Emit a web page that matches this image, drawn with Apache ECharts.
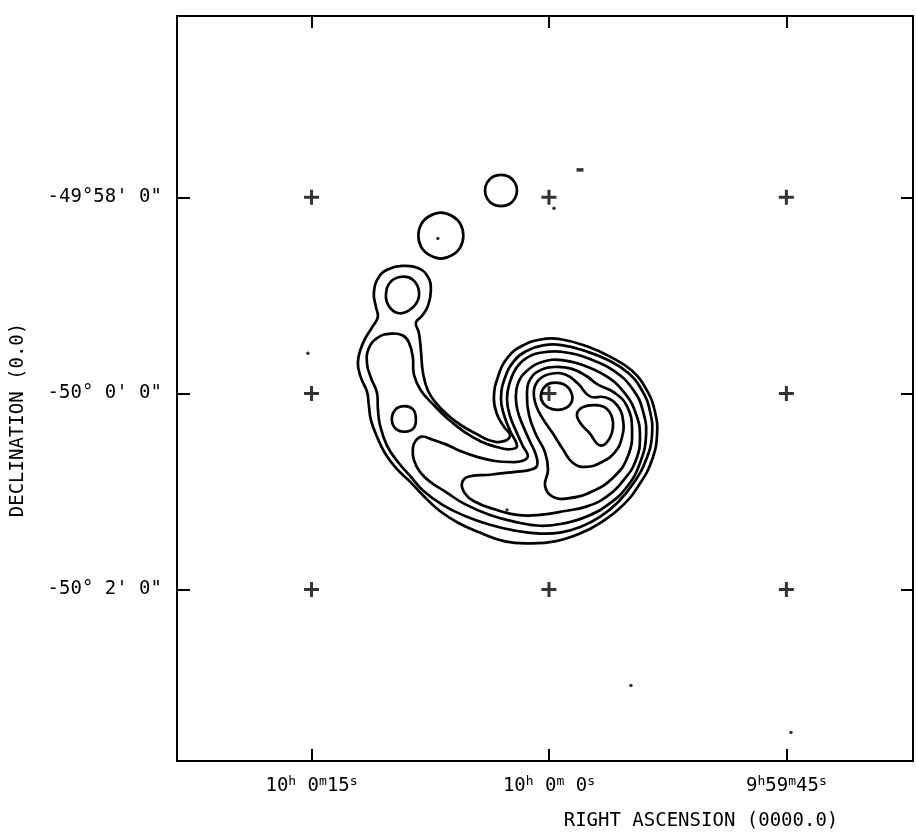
<!DOCTYPE html>
<html>
<head>
<meta charset="utf-8">
<script src="https://cdn.jsdelivr.net/npm/echarts@6/dist/echarts.min.js"></script>
<style>
html,body{margin:0;padding:0;background:#fff;}
#chart{width:916px;height:835px;}
</style>
</head>
<body>
<div id="chart"></div>
<script>
// RA offset in seconds of time from 10h 0m 0s; Dec offset in arcminutes from -50° 0'
const xTickValues = [15, 0, -15];
const xTickLabels = [['10', ' 0', '15'], ['10', ' 0', ' 0'], ['9', '59', '45']];
const yTickValues = [2, 0, -2];
const yTickLabels = ["-49°58' 0\"", "-50° 0' 0\"", "-50° 2' 0\""];
const xName = 'RIGHT ASCENSION (0000.0)';
const yName = 'DECLINATION (0.0)';

const gridRA = [15, 0, -15];
const gridDec = [2, 0, -2];

// contour lines [RA offset s, Dec offset ']
const contourL1 = [[9.29,1.30],[10.11,1.27],[10.74,1.19],[11.06,1.03],[10.93,0.88],[10.81,0.78],[11.19,0.67],[11.76,0.51],[12.07,0.32],[11.88,0.16],[11.50,0.02],[11.38,-0.12],[11.25,-0.27],[10.87,-0.44],[10.36,-0.61],[9.67,-0.76],[8.78,-0.90],[7.84,-1.06],[6.89,-1.20],[5.75,-1.32],[4.36,-1.42],[2.78,-1.51],[1.20,-1.53],[-0.38,-1.51],[-1.96,-1.43],[-3.35,-1.31],[-4.68,-1.14],[-5.75,-0.92],[-6.51,-0.68],[-6.83,-0.42],[-6.70,-0.19],[-6.19,0.03],[-5.25,0.23],[-3.92,0.37],[-2.40,0.48],[-0.82,0.55],[0.51,0.55],[1.64,0.49],[2.59,0.37],[3.22,0.17],[3.48,-0.05],[3.29,-0.21],[2.84,-0.34],[2.46,-0.43],[2.91,-0.49],[3.73,-0.48],[4.61,-0.41],[5.50,-0.33],[6.32,-0.23],[7.08,-0.11],[7.65,0.03],[7.96,0.21],[8.09,0.44],[8.22,0.62],[8.41,0.72],[8.03,0.79],[7.65,0.89],[7.46,1.05],[7.65,1.19],[8.28,1.28]];
const contourL2 = [[9.92,0.61],[10.81,0.57],[11.38,0.46],[11.50,0.31],[11.25,0.16],[10.87,0.01],[10.81,-0.15],[10.68,-0.32],[10.24,-0.53],[9.54,-0.70],[8.78,-0.84],[7.96,-0.99],[6.70,-1.14],[5.31,-1.25],[3.73,-1.34],[2.15,-1.40],[0.57,-1.43],[-0.70,-1.42],[-2.02,-1.36],[-3.22,-1.26],[-4.36,-1.11],[-5.37,-0.91],[-6.13,-0.68],[-6.51,-0.43],[-6.38,-0.18],[-5.88,0.03],[-4.99,0.21],[-3.73,0.34],[-2.34,0.43],[-0.88,0.49],[0.38,0.49],[1.45,0.43],[2.21,0.33],[2.78,0.16],[3.03,-0.05],[2.84,-0.22],[2.46,-0.38],[2.02,-0.54],[2.46,-0.57],[3.22,-0.55],[4.30,-0.49],[5.37,-0.39],[6.38,-0.26],[7.33,-0.11],[8.09,0.03],[8.53,0.19],[8.60,0.37],[8.85,0.52],[9.23,0.59]];
const contourL3 = [[8.41,-0.48],[8.60,-0.56],[8.53,-0.68],[8.15,-0.80],[7.52,-0.90],[6.57,-1.00],[5.31,-1.13],[3.73,-1.24],[2.15,-1.31],[0.57,-1.35],[-0.82,-1.33],[-2.46,-1.25],[-3.86,-1.12],[-4.99,-0.94],[-5.75,-0.71],[-6.13,-0.44],[-5.94,-0.18],[-5.31,0.04],[-4.11,0.23],[-2.59,0.35],[-1.01,0.42],[0.32,0.42],[1.33,0.37],[2.02,0.27],[2.46,0.12],[2.65,-0.06],[2.46,-0.23],[2.09,-0.38],[1.64,-0.54],[1.33,-0.64],[1.71,-0.69],[2.46,-0.70],[3.41,-0.69],[4.49,-0.65],[5.56,-0.59],[6.51,-0.52],[7.39,-0.47],[8.03,-0.44]];
const contourL4 = [[5.50,-0.92],[5.12,-0.85],[3.73,-0.83],[2.15,-0.80],[1.20,-0.78],[0.76,-0.74],[0.82,-0.63],[1.20,-0.49],[1.64,-0.33],[1.96,-0.19],[2.09,-0.05],[1.96,0.10],[1.39,0.23],[0.44,0.32],[-0.82,0.34],[-2.28,0.28],[-3.67,0.17],[-4.80,0.00],[-5.50,-0.21],[-5.75,-0.44],[-5.50,-0.68],[-4.74,-0.88],[-3.67,-1.05],[-2.46,-1.15],[-1.01,-1.20],[0.57,-1.24],[2.02,-1.24],[3.48,-1.18],[4.74,-1.10],[5.31,-1.02]];
const contourL5 = [[1.39,-0.01],[1.20,0.14],[0.51,0.24],[-0.44,0.27],[-1.45,0.25],[-2.34,0.18],[-3.10,0.09],[-4.11,0.01],[-4.93,-0.13],[-5.25,-0.37],[-4.99,-0.64],[-4.11,-0.85],[-2.72,-1.00],[-1.20,-1.07],[-0.19,-1.05],[0.25,-0.94],[0.06,-0.78],[0.25,-0.60],[0.82,-0.42],[1.26,-0.22]];
const contourL6 = [[0.95,0.03],[0.63,0.14],[-0.13,0.20],[-1.07,0.19],[-1.83,0.10],[-2.59,-0.03],[-3.54,-0.04],[-4.30,-0.12],[-4.68,-0.27],[-4.61,-0.45],[-4.17,-0.60],[-3.35,-0.70],[-2.34,-0.75],[-1.52,-0.71],[-0.88,-0.57],[-0.25,-0.41],[0.38,-0.26],[0.82,-0.12]];
const peak1 = [[0.19,0.08],[-0.38,0.11],[-1.07,0.08],[-1.45,-0.01],[-1.39,-0.10],[-0.88,-0.16],[-0.19,-0.16],[0.32,-0.11],[0.51,-0.02]];
const peak2 = [[-2.15,-0.14],[-2.91,-0.12],[-3.60,-0.15],[-3.98,-0.24],[-4.04,-0.35],[-3.86,-0.45],[-3.41,-0.53],[-3.03,-0.51],[-2.59,-0.41],[-2.02,-0.31],[-1.77,-0.21]];
const arcKnot = [[9.16,-0.13],[8.60,-0.16],[8.41,-0.25],[8.53,-0.35],[9.04,-0.39],[9.61,-0.37],[9.92,-0.28],[9.73,-0.17]];
const upperKnot = [[9.29,1.19],[8.60,1.16],[8.22,1.05],[8.34,0.93],[8.91,0.84],[9.54,0.82],[10.11,0.89],[10.30,1.01],[9.99,1.14]];
const blobA = [[3.03,2.23],[2.52,2.21],[2.15,2.15],[2.02,2.07],[2.15,1.99],[2.52,1.93],[3.03,1.91],[3.54,1.93],[3.91,1.99],[4.04,2.07],[3.91,2.15],[3.54,2.21]];
const blobB = [[6.83,1.845],[6.12,1.81],[5.60,1.73],[5.41,1.61],[5.60,1.49],[6.12,1.41],[6.83,1.375],[7.54,1.41],[8.06,1.49],[8.25,1.61],[8.06,1.73],[7.54,1.81]];

const noiseDots = [[7.02,1.58],[-0.32,1.89],[2.65,-1.19],[15.23,0.41],[-5.18,-2.98],[-15.29,-3.46]];
const noiseDash = [[-1.96,2.28]];

const contours = [contourL1, contourL2, contourL3, contourL4, contourL5, contourL6, peak1, peak2, arcKnot, upperKnot, blobA, blobB];

const crosses = [];
gridDec.forEach(d => gridRA.forEach(r => crosses.push([r, d])));

const FONT = 'DejaVu Sans Mono';
const chart = echarts.init(document.getElementById('chart'), null, {renderer: 'canvas'});

const axisLineStyle = {color: '#000', width: 2};
function xLab(v) {
  const i = xTickValues.indexOf(v);
  if (i < 0) return '';
  const p = xTickLabels[i];
  return '{n|' + p[0] + '}{s|h}{n|' + p[1] + '}{s|m}{n|' + p[2] + '}{s|s}';
}
function yLab(v) {
  const i = yTickValues.indexOf(v);
  return i < 0 ? '' : yTickLabels[i];
}

const option = {
  backgroundColor: '#fff',
  animation: false,
  grid: {left: 177, right: 3, top: 16, bottom: 74, containLabel: false},
  xAxis: [
    {
      type: 'value', position: 'bottom', min: -23, max: 23.5, inverse: true,
      axisLine: {show: true, onZero: false, lineStyle: axisLineStyle},
      axisTick: {show: true, inside: true, length: 12, customValues: xTickValues, lineStyle: axisLineStyle},
      axisLabel: {
        show: true, customValues: xTickValues, margin: 14, formatter: xLab,
        rich: {
          n: {fontFamily: FONT, fontSize: 19, color: '#000', lineHeight: 22, verticalAlign: 'middle'},
          s: {fontFamily: FONT, fontSize: 13, color: '#000', lineHeight: 14, verticalAlign: 'top'}
        }
      },
      splitLine: {show: false}
    },
    {
      type: 'value', position: 'top', min: -23, max: 23.5, inverse: true,
      axisLine: {show: true, onZero: false, lineStyle: axisLineStyle},
      axisTick: {show: true, inside: true, length: 12, customValues: xTickValues, lineStyle: axisLineStyle},
      axisLabel: {show: false},
      splitLine: {show: false}
    }
  ],
  yAxis: [
    {
      type: 'value', position: 'left', min: -3.75, max: 3.85,
      axisLine: {show: true, onZero: false, lineStyle: axisLineStyle},
      axisTick: {show: true, inside: true, length: 13, customValues: yTickValues, lineStyle: axisLineStyle},
      axisLabel: {show: true, customValues: yTickValues, margin: 15, formatter: yLab,
        fontFamily: FONT, fontSize: 19, color: '#000'},
      splitLine: {show: false}
    },
    {
      type: 'value', position: 'right', min: -3.75, max: 3.85,
      axisLine: {show: true, onZero: false, lineStyle: axisLineStyle},
      axisTick: {show: true, inside: true, length: 12, customValues: yTickValues, lineStyle: axisLineStyle},
      axisLabel: {show: false},
      splitLine: {show: false}
    }
  ],
  graphic: [
    {type: 'text', x: 701, y: 821, style: {text: xName, fontFamily: FONT, fontSize: 19, fill: '#000', textAlign: 'center', textVerticalAlign: 'middle'}},
    {type: 'text', x: 18, y: 420, rotation: Math.PI / 2, style: {text: yName, fontFamily: FONT, fontSize: 19, fill: '#000', textAlign: 'center', textVerticalAlign: 'middle'}}
  ],
  series: [
    {
      type: 'custom', coordinateSystem: 'cartesian2d', xAxisIndex: 0, yAxisIndex: 0,
      data: contours.map(c => c[0]),
      renderItem: function (params, api) {
        const pts = contours[params.dataIndex].map(p => api.coord(p));
        return {
          type: 'polygon',
          shape: {points: pts, smooth: 0.45},
          style: {fill: 'none', stroke: '#000', lineWidth: 2.7}
        };
      },
      silent: true, z: 3
    },
    {
      type: 'scatter', xAxisIndex: 0, yAxisIndex: 0, data: crosses,
      symbol: 'path://M4,0H6V4H10V6H6V10H4V6H0V4H4Z', symbolSize: 15,
      itemStyle: {color: '#000'}, silent: true, z: 4
    },
    {
      type: 'scatter', xAxisIndex: 0, yAxisIndex: 0, data: noiseDots,
      symbol: 'circle', symbolSize: 3.5, itemStyle: {color: '#000'}, silent: true
    },
    {
      type: 'scatter', xAxisIndex: 0, yAxisIndex: 0, data: noiseDash,
      symbol: 'rect', symbolSize: [7, 3.5], itemStyle: {color: '#000'}, silent: true
    }
  ]
};
chart.setOption(option);
</script>
</body>
</html>
